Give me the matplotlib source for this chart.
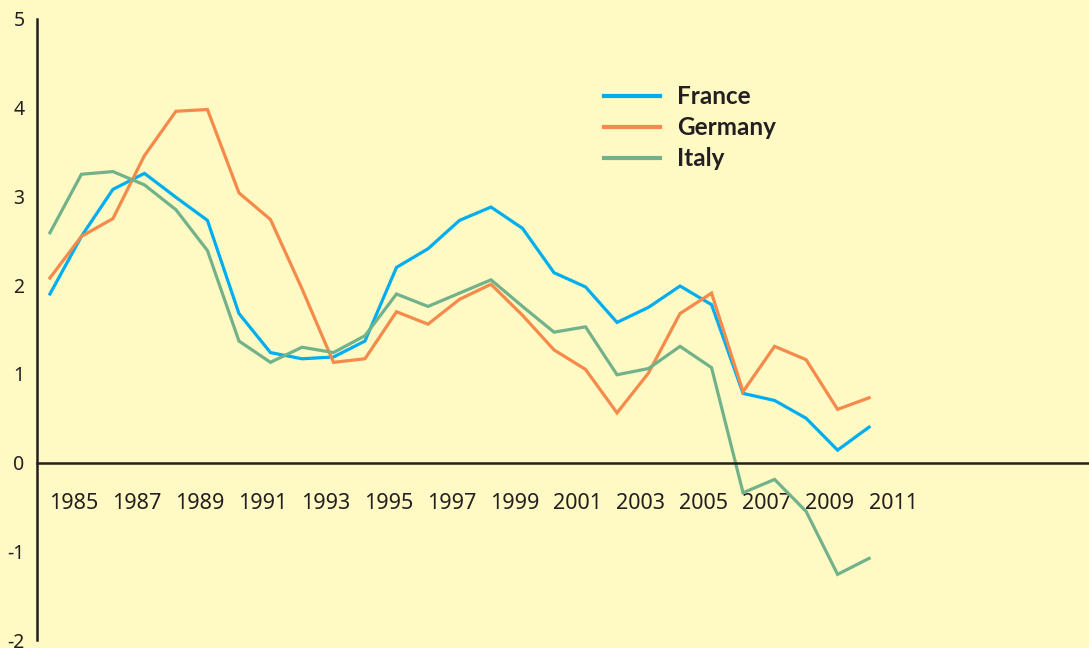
import matplotlib
matplotlib.use("Agg")
from matplotlib import pyplot as plt

# yearly values
years = list(range(1984, 2011))
france = [1.90, 2.55, 3.08, 3.26, 2.99, 2.73, 1.68, 1.24, 1.17, 1.19, 1.37, 2.20, 2.41, 2.73,
          2.88, 2.64, 2.14, 1.98, 1.58, 1.75, 1.99, 1.78, 0.78, 0.70, 0.50, 0.14, 0.40]
germany = [2.08, 2.55, 2.75, 3.46, 3.96, 3.98, 3.04, 2.74, 1.96, 1.13, 1.17, 1.70, 1.56, 1.84,
           2.01, 1.66, 1.27, 1.05, 0.56, 1.01, 1.68, 1.91, 0.80, 1.31, 1.16, 0.60, 0.73]
italy = [2.59, 3.25, 3.28, 3.13, 2.85, 2.39, 1.37, 1.13, 1.30, 1.24, 1.43, 1.90, 1.76, 1.91,
         2.06, 1.76, 1.47, 1.53, 0.99, 1.06, 1.31, 1.07, -0.34, -0.19, -0.55, -1.26, -1.08]
year_labels = list(range(1985, 2012, 2))
y_ticks = [-2, -1, 0, 1, 2, 3, 4, 5]

bg = "#FFF9C4"
plt.rcParams["font.family"] = ["Noto Sans", "DejaVu Sans"]

fig = plt.figure(figsize=(10.89, 6.48), dpi=100, facecolor=bg)
ax = fig.add_axes([37 / 1089, 8 / 648, 1 - 37 / 1089, 621 / 648])
ax.set_facecolor(bg)

ax.plot(years, france, color="#00AEEF", lw=2.3, label="France", solid_joinstyle="miter")
ax.plot(years, germany, color="#F58A4B", lw=2.3, label="Germany", solid_joinstyle="miter")
ax.plot(years, italy, color="#72B28A", lw=2.3, label="Italy", solid_joinstyle="miter")

ax.set_xlim(1983.59, 2016.98)
ax.set_ylim(-2, 5)

for s in ["top", "right"]:
    ax.spines[s].set_visible(False)
ax.spines["left"].set_linewidth(1.8)
ax.spines["left"].set_color("#231F20")
ax.spines["bottom"].set_position(("data", 0))
ax.spines["bottom"].set_linewidth(1.8)
ax.spines["bottom"].set_color("#231F20")

ax.set_xticks([y - 0.24 for y in year_labels])
ax.set_xticklabels([str(y) for y in year_labels])
ax.tick_params(axis="x", length=0, pad=22, labelsize=15.5, labelcolor="#231F20")
ax.set_yticks(y_ticks)
ax.set_yticklabels([str(v) for v in y_ticks])
ax.tick_params(axis="y", length=0, pad=9, labelsize=14, labelcolor="#231F20")

leg = ax.legend(loc="upper left", bbox_to_anchor=(0.539, 0.893), frameon=False,
                borderpad=0, borderaxespad=0,
                handlelength=2.3, handletextpad=0.7, labelspacing=0.33,
                prop={"family": ["Lato", "DejaVu Sans"], "weight": "bold", "size": 17.5})
for t in leg.get_texts():
    t.set_color("#231F20")
for h in leg.get_lines():
    h.set_linewidth(3)

fig.savefig("out.png", dpi=100, facecolor=bg)
